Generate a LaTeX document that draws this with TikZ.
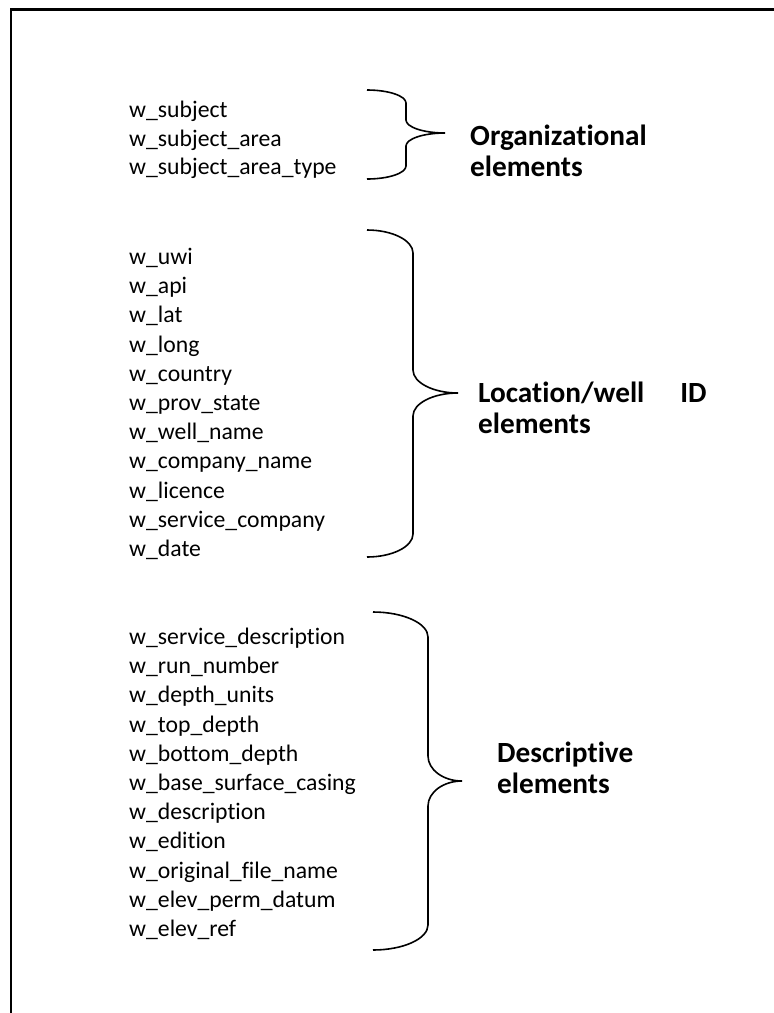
\documentclass[tikz,border=0pt]{standalone}
\usepackage{fontspec}
\setmainfont{Carlito}[Ligatures={NoCommon,NoContextual}]
\usetikzlibrary{positioning}

\newcommand{\wellbrace}[7]{%
  \draw[brace] (#1,#4) .. controls ({#1+0.55*(#2-#1)},#4) and (#2,{#4+0.45*#7}) .. (#2,{#4+#7})
    -- (#2,{#5-#7}) .. controls (#2,{#5-0.45*#7}) and ({#3-0.55*(#3-#2)},#5) .. (#3,#5)
    .. controls ({#3-0.55*(#3-#2)},#5) and (#2,{#5+0.45*#7}) .. (#2,{#5+#7})
    -- (#2,{#6-#7}) .. controls (#2,{#6-0.45*#7}) and ({#1+0.55*(#2-#1)},#6) .. (#1,#6);}

\begin{document}
\begin{tikzpicture}[x=1pt, y=-1pt,
  field/.style={anchor=base west, inner sep=0pt, text=black, font=\fontsize{23.7}{28}\selectfont},
  group/.style={anchor=base west, inner sep=0pt, align=left, text=black, font=\fontsize{29.3}{31}\selectfont\bfseries},
  brace/.style={draw=black, line width=1.6pt},
  frame/.style={draw=black, line width=2.2pt}]
  \useasboundingbox (0,0) rectangle (774,1013);
  \draw[frame] (11,1013) -- (11,9.5) -- (774,9.5);

  \node[field] (o1) at (129, 117.5) {w\_subject};
  \node[field] (o2) at (129, 146.2) {w\_subject\_area};
  \node[field] (o3) at (129, 174.9) {w\_subject\_area\_type};

  \node[field] (l1) at (129, 264.5) {w\_uwi};
  \node[field] (l2) at (129, 293.7) {w\_api};
  \node[field] (l3) at (129, 322.9) {w\_lat};
  \node[field] (l4) at (129, 352.1) {w\_long};
  \node[field] (l5) at (129, 381.3) {w\_country};
  \node[field] (l6) at (129, 410.5) {w\_prov\_state};
  \node[field] (l7) at (129, 439.7) {w\_well\_name};
  \node[field] (l8) at (129, 468.9) {w\_company\_name};
  \node[field] (l9) at (129, 498.1) {w\_licence};
  \node[field] (l10) at (129, 527.3) {w\_service\_company};
  \node[field] (l11) at (129, 556.5) {w\_date};

  \node[field] (d1) at (129, 644.5) {w\_service\_description};
  \node[field] (d2) at (129, 673.7) {w\_run\_number};
  \node[field] (d3) at (129, 702.9) {w\_depth\_units};
  \node[field] (d4) at (129, 732.1) {w\_top\_depth};
  \node[field] (d5) at (129, 761.3) {w\_bottom\_depth};
  \node[field] (d6) at (129, 790.5) {w\_base\_surface\_casing};
  \node[field] (d7) at (129, 819.7) {w\_description};
  \node[field] (d8) at (129, 848.9) {w\_edition};
  \node[field] (d9) at (129, 878.1) {w\_original\_file\_name};
  \node[field] (d10) at (129, 907.3) {w\_elev\_perm\_datum};
  \node[field] (d11) at (129, 936.5) {w\_elev\_ref};

  \wellbrace{367}{406}{445}{90}{133}{179}{13}
  \wellbrace{367}{413}{458}{230}{393}{557}{23}
  \wellbrace{373}{428}{462}{612}{781}{950}{25}

  \node[group] (orgl) at (470, 176) {Organizational\\elements};
  \node[group] (locl) at (478, 433) {Location/well\hspace{36pt}ID\\elements};
  \node[group] (desl) at (497, 793) {Descriptive\\elements};
\end{tikzpicture}
\end{document}
